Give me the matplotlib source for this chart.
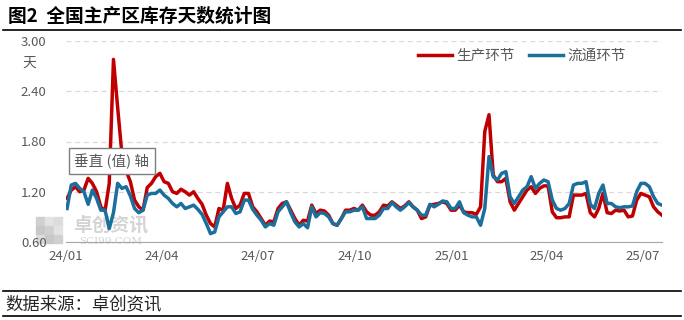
import matplotlib
matplotlib.use("Agg")  # no display
import matplotlib.pyplot as plt
import matplotlib.dates as mdates
from matplotlib.patches import Rectangle
from matplotlib.lines import Line2D
import pandas as pd

plt.rcParams['font.family'] = ['Noto Sans CJK SC', 'DejaVu Sans']

title = "图2  全国主产区库存天数统计图"
source = "数据来源：卓创资讯"
unit = "天"
axis_note = "垂直 (值) 轴"
series_names = ["生产环节", "流通环节"]
start_date = "2024-01-02"
step = "4D"

# 生产环节 (days), one value every 4 days
production = [
    1.12, 1.22, 1.26, 1.20, 1.22, 1.36, 1.30, 1.20, 1.02, 0.97,
    1.30, 2.78, 2.20, 1.65, 1.45, 1.32, 1.10, 1.02, 0.98, 1.25,
    1.30, 1.38, 1.42, 1.32, 1.30, 1.20, 1.18, 1.23, 1.20, 1.16,
    1.20, 1.12, 1.05, 0.92, 0.82, 0.78, 1.00, 0.98, 1.30, 1.12,
    1.00, 1.04, 1.18, 1.18, 1.02, 0.96, 0.88, 0.80, 0.85, 0.84,
    1.00, 1.06, 1.08, 0.98, 0.88, 0.80, 0.86, 0.85, 1.04, 0.94,
    0.98, 0.97, 0.92, 0.82, 0.80, 0.88, 0.98, 0.98, 1.00, 0.98,
    1.04, 0.96, 0.92, 0.92, 0.96, 1.04, 1.03, 1.08, 1.04, 1.00,
    1.03, 1.08, 1.02, 0.98, 0.88, 0.90, 1.04, 1.05, 1.06, 1.08,
    1.06, 0.98, 0.98, 1.04, 0.96, 0.95, 0.95, 0.93, 1.02, 1.92,
    2.12, 1.40, 1.32, 1.32, 1.36, 1.08, 0.98, 1.06, 1.14, 1.22,
    1.26, 1.18, 1.24, 1.27, 1.27, 0.96, 0.89, 0.89, 0.90, 0.90,
    1.16, 1.16, 1.16, 1.18, 0.95, 0.90, 1.00, 1.18, 0.95, 0.94,
    0.98, 0.97, 0.98, 0.90, 0.91, 1.10, 1.18, 1.16, 1.14, 1.02,
    0.96, 0.92,
]

# 流通环节 (days)
circulation = [
    1.00, 1.28, 1.30, 1.24, 1.20, 1.05, 1.22, 1.12, 0.98, 0.98,
    0.76, 0.95, 1.30, 1.24, 1.26, 1.15, 1.00, 0.95, 0.98, 1.16,
    1.18, 1.18, 1.22, 1.16, 1.12, 1.06, 1.02, 1.06, 1.00, 1.02,
    1.04, 0.99, 0.93, 0.82, 0.70, 0.72, 0.90, 0.96, 1.02, 1.02,
    0.94, 0.96, 1.10, 1.10, 0.99, 0.92, 0.86, 0.78, 0.82, 0.80,
    0.96, 1.02, 1.08, 0.95, 0.84, 0.78, 0.82, 0.77, 1.02, 0.90,
    0.95, 0.94, 0.90, 0.82, 0.80, 0.88, 0.96, 0.96, 0.98, 0.98,
    1.02, 0.88, 0.88, 0.88, 0.92, 1.00, 1.00, 1.07, 1.02, 0.98,
    1.02, 1.07, 1.02, 0.98, 0.92, 0.92, 1.05, 1.02, 1.05, 1.09,
    1.08, 1.00, 1.00, 1.08, 0.95, 0.92, 0.90, 0.90, 0.80, 1.00,
    1.62, 1.38, 1.34, 1.42, 1.44, 1.14, 1.06, 1.14, 1.22, 1.26,
    1.38, 1.24, 1.30, 1.34, 1.32, 1.10, 1.00, 0.98, 1.00, 1.06,
    1.28, 1.30, 1.30, 1.32, 1.05, 1.00, 1.18, 1.28, 1.06, 1.06,
    1.02, 1.01, 1.02, 1.02, 1.03, 1.20, 1.30, 1.30, 1.26, 1.14,
    1.06, 1.04,
]

yticks = [0.60, 1.20, 1.80, 2.40, 3.00]
month_ticks = ["2024-01-01", "2024-04-01", "2024-07-01", "2024-10-01",
               "2025-01-01", "2025-04-01", "2025-07-01"]

dates = pd.date_range(start_date, periods=len(production), freq=step)

RED = "#C00000"
BLUE = "#1B6F9C"
GREY_TXT = "#595959"

fig = plt.figure(figsize=(6.84, 3.2), dpi=100)
ax = fig.add_axes([66 / 684, 1 - 242 / 320, 596 / 684, 201 / 320])

ax.plot(dates, production, color=RED, lw=2.5, label=series_names[0], zorder=3)
ax.plot(dates, circulation, color=BLUE, lw=2.5, label=series_names[1], zorder=4)

ax.set_ylim(0.6, 3.0)
ax.set_yticks(yticks)
ax.set_yticklabels([f"{v:.2f}" for v in yticks])
ax.set_xlim(pd.Timestamp("2024-01-01"), dates[-1])
ax.set_xticks(pd.to_datetime(month_ticks))
ax.xaxis.set_major_formatter(mdates.DateFormatter("%y/%m"))

ax.grid(axis="y", color="#d9d9d9", lw=0.9, linestyle=(0, (4, 3)), zorder=1)
for s in ["top", "right", "left"]:
    ax.spines[s].set_visible(False)
ax.spines["bottom"].set_color("#a6a6a6")
ax.spines["bottom"].set_zorder(5)
ax.tick_params(axis="y", length=0, pad=14, labelsize=9.5, labelcolor=GREY_TXT)
ax.tick_params(axis="x", length=0, pad=6, labelsize=9.5, labelcolor=GREY_TXT)

leg = fig.legend(loc="center", bbox_to_anchor=(522 / 684, 1 - 56 / 320), ncol=2,
                 frameon=False, fontsize=10.5, handlelength=2.3, handletextpad=0.3,
                 columnspacing=1.0, labelcolor=GREY_TXT)

# unit label
fig.text(29 / 684, 1 - 63 / 320, unit, fontsize=10, color=GREY_TXT, ha="center", va="center")

# stray axis-title box
fig.text(112 / 684, 1 - 161 / 320, axis_note, fontsize=10.5, color=GREY_TXT,
         ha="center", va="center", zorder=10,
         bbox=dict(boxstyle="square,pad=0.35", fc="white", ec="#7f7f7f", lw=1))

# watermark behind the lines
wm_grey = ["#d0d0d0", "#e3e3e3", "#c8c8c8", "#dcdcdc"]
cells = [(36, 217, 0), (45, 217, 1), (54, 217, 3), (36, 226, 2), (45, 226, 0),
         (54, 226, 1), (36, 235, 3), (45, 235, 2), (54, 235, 0)]
for px, py, c in cells:
    ax.add_patch(Rectangle((px / 684, 1 - (py + 8) / 320), 8 / 684, 8 / 320,
                           transform=fig.transFigure, color=wm_grey[c],
                           clip_on=False, zorder=0.5))
ax.text(111 / 684, 1 - 225 / 320, "卓创资讯", transform=fig.transFigure,
        fontsize=13.5, fontweight="bold", color="#d4d4d4", ha="center", va="center",
        zorder=0.5, clip_on=False)
ax.text(111 / 684, 1 - 241.5 / 320, "SCI99.COM", transform=fig.transFigure,
        fontsize=7.5, family="DejaVu Serif", color="#d4d4d4", ha="center", va="center",
        zorder=0.5, clip_on=False)

# title and source with rules
fig.text(8 / 684, 1 - 16 / 320, title, fontsize=13.5, fontweight="bold",
         color="black", ha="left", va="center")
for yy in [1 - 30 / 320, 1 - 291 / 320, 1 - 316 / 320]:
    fig.add_artist(Line2D([0.005, 0.995], [yy, yy], color="black", lw=1.2,
                          transform=fig.transFigure))
fig.text(5 / 684, 1 - 304 / 320, source, fontsize=12.5, color="#262626",
         ha="left", va="center")

fig.savefig("out.png", dpi=100)
print("saved out.png")
